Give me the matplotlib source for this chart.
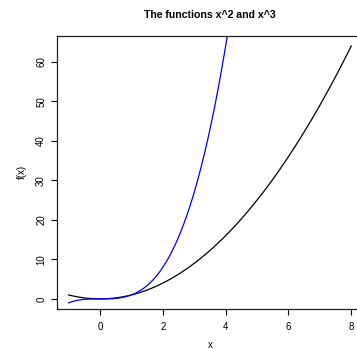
import numpy as np
import matplotlib
matplotlib.use("Agg")
import matplotlib.pyplot as plt

plt.rcParams['font.family'] = ['Liberation Sans', 'DejaVu Sans']

# curve domain and axis ticks
x_start, x_end = -1, 8
x_ticks = [0, 2, 4, 6, 8]
y_ticks = [0, 10, 20, 30, 40, 50, 60]
title = "The functions x^2 and x^3"

x = np.linspace(x_start, x_end, 101)
y_sq = x ** 2
y_cu = x ** 3

fig = plt.figure(figsize=(3.57, 3.49), dpi=100)
ax = fig.add_axes([0.1605, 0.1146, 0.8552, 0.7828])

ax.plot(x, y_sq, color="black", lw=0.9)
ax.plot(x, y_cu, color="#0000FF", lw=0.9)

# R-style 4% padding on both axes
xr = x_end - x_start
ymin, ymax = y_sq.min(), y_sq.max()
yr = ymax - ymin
ax.set_xlim(x_start - 0.04 * xr, x_end + 0.04 * xr)
ax.set_ylim(ymin - 0.04 * yr, ymax + 0.04 * yr)

ax.set_xticks(x_ticks)
ax.set_yticks(y_ticks)
ax.tick_params(axis='both', direction='out', length=4, width=0.8,
               labelsize=7)
ax.tick_params(axis='x', pad=5)
ax.tick_params(axis='y', pad=4)
for lab in ax.get_yticklabels():
    lab.set_rotation(90)
    lab.set_va('center')
for s in ax.spines.values():
    s.set_linewidth(0.9)
    s.set_color("#222222")

# axis titles placed in the outer margin, R style
fig.text(0.588, 0.012, "x", ha='center', va='center', fontsize=7)
fig.text(0.062, 0.506, "f(x)", ha='center', va='center', fontsize=7,
         rotation=90)
fig.text(0.588, 0.957, title, ha='center', va='center',
         fontsize=7.6, fontweight='bold')

fig.savefig("out.png", dpi=100)
